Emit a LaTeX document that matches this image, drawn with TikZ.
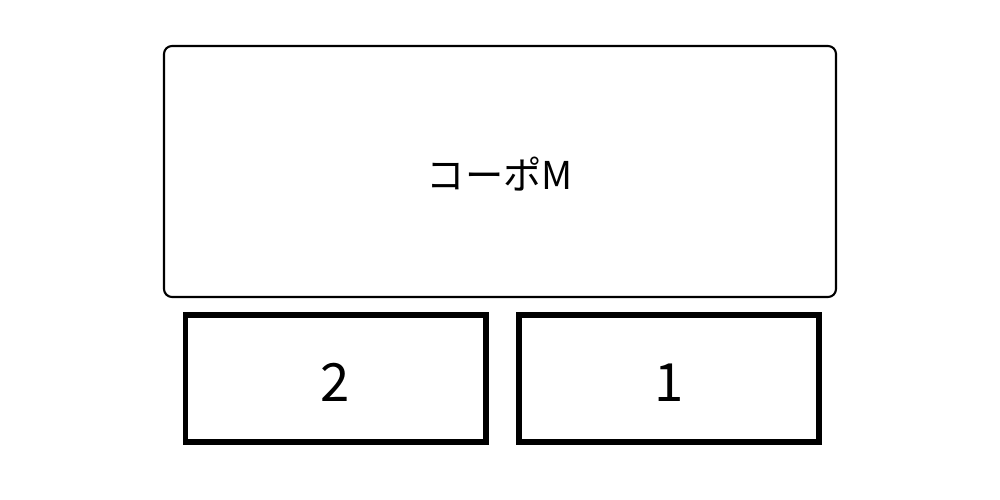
\documentclass[tikz,border=0pt]{standalone}
\usepackage{fontspec}
\setmainfont{Noto Sans CJK JP}
\usetikzlibrary{positioning}
\tikzset{
	apart/.style={draw, line width=0.6pt, rounded corners=0.08cm, minimum width=6.72cm, minimum height=2.51cm, inner sep=0pt, text height=0.37cm, text depth=0pt, font=\fontsize{10.9}{13}\selectfont},
	room/.style={draw, line width=1.7pt, minimum width=3.0cm, minimum height=1.27cm, inner sep=0pt, text height=0.47cm, text depth=0pt, font=\fontsize{15}{18}\selectfont}
}
\begin{document}
\begin{tikzpicture}
%frame
\useasboundingbox (0,0) rectangle (10,5);
% building
\node[apart] (coop) at (5,3.285) {コーポM};
% rooms
\node[room] (room2) at (3.355,1.215) {2};
\node[room] (room1) at (6.69,1.215) {1};
\end{tikzpicture}
\end{document}
